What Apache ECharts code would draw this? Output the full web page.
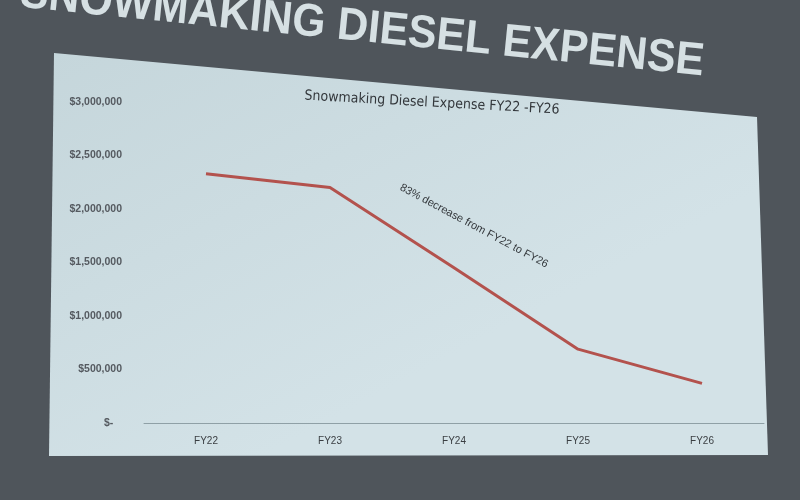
<!DOCTYPE html>
<html>
<head>
<meta charset="utf-8">
<script src="https://cdn.jsdelivr.net/npm/echarts@6/dist/echarts.min.js"></script>
<style>
  html, body { margin: 0; padding: 0; background: #50565c; }
  #main { width: 800px; height: 500px; }
</style>
</head>
<body>
<div id="main"></div>
<script>
// values
var years = ['FY22', 'FY23', 'FY24', 'FY25', 'FY26'];
var dieselExpense = [2330000, 2200000, 1450000, 690000, 370000];
var yTicks = [0, 500000, 1000000, 1500000, 2000000, 2500000, 3000000];

var slideTitle = 'SNOWMAKING DIESEL EXPENSE';
var chartTitle = 'Snowmaking Diesel Expense FY22 -FY26';
var note = '83% decrease from FY22 to FY26';

var dom = document.getElementById('main');
var chart = echarts.init(dom);

function money(v) { //excel accounting style, zero shows as $-
  if (v === 0) return '$-   ';
  return '$' + v.toLocaleString('en-US');
}

chart.setOption({
  backgroundColor: '#4f555b',
  animation: false,
  graphic: [
    { //projected screen area
      type: 'polygon',
      z: -10,
      shape: { points: [[54, 53], [757, 117], [768, 455], [49, 456]] },
      style: {
        fill: new echarts.graphic.LinearGradient(0, 0, 0.3, 1, [
          { offset: 0, color: '#c5d6db' },
          { offset: 1, color: '#d3e2e7' }
        ])
      }
    },
    { //big slide heading, tilted like the photo
      type: 'text',
      x: 18, y: 17,
      rotation: -0.1,
      scaleX: 0.93,
      style: {
        text: slideTitle,
        fill: '#d6e0e3',
        font: 'bold 46px "Liberation Sans", Arial, sans-serif',
        textAlign: 'left',
        textVerticalAlign: 'bottom'
      }
    },
    {
      type: 'text',
      x: 432, y: 103,
      rotation: -0.055,
      style: {
        text: chartTitle,
        fill: '#33373b',
        font: '14px "DejaVu Sans Condensed", sans-serif',
        textAlign: 'center',
        textVerticalAlign: 'middle'
      }
    },
    {
      type: 'text',
      x: 474, y: 226,
      rotation: -0.49,
      style: {
        text: note,
        fill: '#33373b',
        font: '11px "Liberation Sans", sans-serif',
        textAlign: 'center',
        textVerticalAlign: 'middle'
      }
    }
  ],
  grid: { left: 144, right: 36, top: 102, bottom: 77 },
  xAxis: {
    type: 'category',
    data: years,
    axisTick: { show: false },
    axisLine: { lineStyle: { color: '#8fa0a6', width: 1 } },
    axisLabel: { color: '#3a3e42', fontSize: 10, margin: 13, fontFamily: 'Liberation Sans' }
  },
  yAxis: {
    type: 'value',
    min: yTicks[0],
    max: yTicks[yTicks.length - 1],
    interval: yTicks[1] - yTicks[0],
    splitLine: { show: false },
    axisLine: { show: false },
    axisTick: { show: false },
    axisLabel: {
      formatter: money,
      color: '#555a60',
      fontSize: 10.5,
      fontWeight: 'bold',
      margin: 22,
      fontFamily: 'Liberation Sans'
    }
  },
  series: [{
    type: 'line',
    data: dieselExpense,
    symbol: 'none',
    lineStyle: { color: '#b3524d', width: 3 }
  }]
});
</script>
</body>
</html>
